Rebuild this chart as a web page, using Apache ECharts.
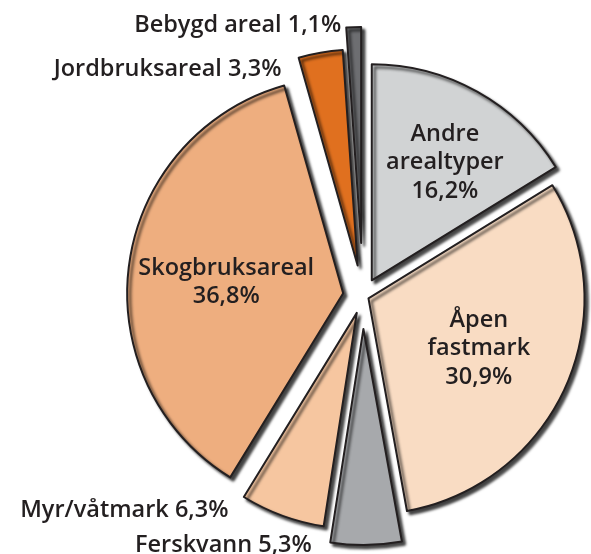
<!DOCTYPE html>
<html lang="no">
<head>
    <meta charset="UTF-8">
    <title>Arealfordeling</title>
    <script src="https://cdn.jsdelivr.net/npm/echarts@6/dist/echarts.min.js"></script>
    <style>
        html, body { margin: 0; padding: 0; background: #fff; }
        #chart { width: 591px; height: 554px; }
    </style>
</head>
<body>
    <div id="chart"></div>
    <script>
        var names = ['Andre arealtyper', 'Åpen fastmark', 'Ferskvann', 'Myr/våtmark', 'Skogbruksareal', 'Jordbruksareal', 'Bebygd areal'];
        var values = [16.2, 30.9, 5.3, 6.3, 36.8, 3.3, 1.1];

        // styling per slice
        var colors = ['#d1d3d4', '#f9dcc3', '#a7a9ac', '#f6c6a0', '#eeae7f', '#e0701f', '#6d6e71'];
        var offsets = [18, 6, 33, 18, 20, 31, 53];
        var inside = [true, true, false, false, true, false, false];
        // nudges from the default inside position of each label
        var labelShift = [[19, -21], [9, 5], [-53, 105], [-90, 93], [-7, 4], [-57, -87], [-16, -107]];

        function pct(v) {
            return v.toFixed(1).replace('.', ',') + '%';
        }

        var chart = echarts.init(document.getElementById('chart'));

        // one series per slice, so every slice can be pulled out by its own distance
        var series = names.map(function (_, k) {
            return {
                type: 'pie',
                center: [363, 296],
                radius: [0, 216],
                startAngle: 90,
                clockwise: true,
                avoidLabelOverlap: false,
                selectedMode: 'multiple',
                selectedOffset: offsets[k],
                emphasis: { disabled: true },
                silent: true,
                labelLayout: function () {
                    return {
                        dx: labelShift[k][0],
                        dy: labelShift[k][1],
                        align: inside[k] ? 'center' : 'right'
                    };
                },
                data: names.map(function (n, i) {
                    if (i !== k) {
                        return {
                            name: n,
                            value: values[i],
                            itemStyle: { color: 'transparent', borderWidth: 0, shadowBlur: 0, shadowOffsetX: 0, shadowOffsetY: 0, shadowColor: 'transparent' },
                            label: { show: false },
                            labelLine: { show: false }
                        };
                    }
                    return {
                        name: n,
                        value: values[i],
                        selected: true,
                        itemStyle: {
                            color: colors[i],
                            borderColor: '#231f20',
                            borderWidth: 2,
                            shadowColor: 'rgba(0, 0, 0, 0.75)',
                            shadowBlur: 3,
                            shadowOffsetX: 3,
                            shadowOffsetY: 3
                        },
                        label: {
                            show: true,
                            position: 'inside',
                            color: '#231f20',
                            fontFamily: 'Open Sans',
                            fontWeight: 600,
                            fontSize: 23.5,
                            lineHeight: 28.5,
                            align: inside[i] ? 'center' : 'right',
                            verticalAlign: 'middle',
                            formatter: function () {
                                if (inside[i]) {
                                    return n.replace(' ', '\n') + '\n' + pct(values[i]);
                                }
                                return n + ' ' + pct(values[i]);
                            }
                        },
                        labelLine: { show: false }
                    };
                })
            };
        });

        chart.setOption({
            animation: false,
            series: series
        });
    </script>
</body>
</html>
